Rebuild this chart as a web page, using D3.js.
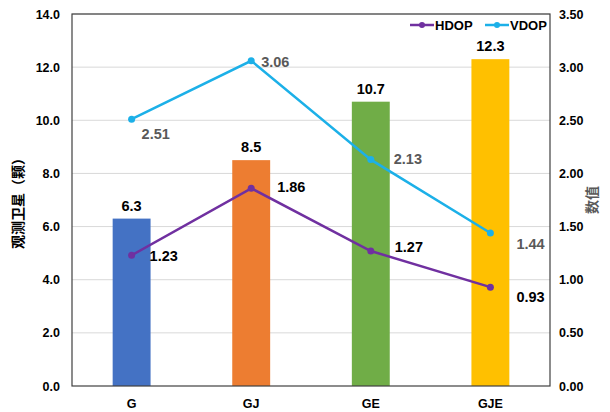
<!DOCTYPE html>
<html>
<head>
<meta charset="utf-8">
<script src="https://cdn.jsdelivr.net/npm/d3@7"></script>
<style>
  body { margin: 0; background: #fff; }
  svg { font-family: "Liberation Sans", Arial, sans-serif; }
  .cjk { font-family: "Noto Sans CJK SC", sans-serif; }
</style>
</head>
<body>
<svg id="chart" width="610" height="412"></svg>
<script>
const categories = ['G', 'GJ', 'GE', 'GJE'];
const satellites = [6.3, 8.5, 10.7, 12.3];
const hdop = [1.23, 1.86, 1.27, 0.93];
const vdop = [2.51, 3.06, 2.13, 1.44];
const leftTicks = [0, 2, 4, 6, 8, 10, 12, 14];
const rightTicks = [0, 0.5, 1, 1.5, 2, 2.5, 3, 3.5];
const barColors = ['#4472C4', '#ED7D31', '#70AD47', '#FFC000'];

const svg = d3.select('#chart');
const plotL = 72, plotR = 550, plotT = 14, plotB = 386;

const x = d3.scaleBand().domain(categories).range([plotL, plotR]).paddingInner(0.683).paddingOuter(0.34);
const xc = d => x(d) + x.bandwidth() / 2;
const yL = d3.scaleLinear().domain([0, 14]).range([plotB, plotT]);
const yR = d3.scaleLinear().domain([0, 3.5]).range([plotB, plotT]);

// gridlines
svg.append('g')
    .selectAll('line')
    .data(leftTicks.slice(1))
    .enter()
    .append('line')
    .attr('x1', plotL).attr('x2', plotR)
    .attr('y1', d => yL(d)).attr('y2', d => yL(d))
    .attr('stroke', '#d9d9d9').attr('stroke-width', 1);

// bars
svg.append('g')
    .selectAll('rect')
    .data(satellites)
    .enter()
    .append('rect')
    .attr('x', (d, i) => x(categories[i]))
    .attr('width', x.bandwidth())
    .attr('y', d => yL(d))
    .attr('height', d => yL(0) - yL(d))
    .attr('fill', (d, i) => barColors[i]);

svg.append('g')
    .selectAll('text')
    .data(satellites)
    .enter()
    .append('text')
    .attr('x', (d, i) => xc(categories[i]))
    .attr('y', d => yL(d) - 8)
    .attr('text-anchor', 'middle')
    .attr('font-size', 14.5).attr('font-weight', 'bold').attr('fill', '#000')
    .text(d => d.toFixed(1));

// plot frame
svg.append('rect')
    .attr('x', plotL).attr('y', plotT)
    .attr('width', plotR - plotL).attr('height', plotB - plotT)
    .attr('fill', 'none').attr('stroke', '#404040').attr('stroke-width', 1.2);

// axes
const axisL = d3.axisLeft(yL).tickValues(leftTicks).tickFormat(d3.format('.1f')).tickSize(0).tickPadding(12);
const axisR = d3.axisRight(yR).tickValues(rightTicks).tickFormat(d3.format('.2f')).tickSize(0).tickPadding(9);
const axisB = d3.axisBottom(x).tickSize(0).tickPadding(13);

[[axisL, `translate(${plotL},0)`], [axisR, `translate(${plotR},0)`], [axisB, `translate(0,${plotB})`]].forEach(([ax, tr]) => {
    const g = svg.append('g').attr('transform', tr).call(ax);
    g.select('.domain').remove();
    g.selectAll('text').attr('font-size', 12.5).attr('font-weight', 'bold').attr('fill', '#000')
        .attr('font-family', '"Liberation Sans", Arial, sans-serif');
});

// lines
const series = [
    { name: 'HDOP', values: hdop, color: '#7030A0', labelColor: '#000', dx: [18, 26, 24, 26], dy: [6, 4, 1, 15] },
    { name: 'VDOP', values: vdop, color: '#1CB0E8', labelColor: '#595959', dx: [10, 10, 23, 26], dy: [20, 6, 4.5, 16] }
];
const line = d3.line().x((d, i) => xc(categories[i])).y(d => yR(d));

series.forEach(s => {
    svg.append('path')
        .datum(s.values)
        .attr('d', line)
        .attr('fill', 'none')
        .attr('stroke', s.color)
        .attr('stroke-width', 2.5);
    svg.append('g')
        .selectAll('circle')
        .data(s.values)
        .enter()
        .append('circle')
        .attr('cx', (d, i) => xc(categories[i]))
        .attr('cy', d => yR(d))
        .attr('r', 3.5)
        .attr('fill', s.color);
    svg.append('g')
        .selectAll('text')
        .data(s.values)
        .enter()
        .append('text')
        .attr('x', (d, i) => xc(categories[i]) + s.dx[i])
        .attr('y', (d, i) => yR(d) + s.dy[i])
        .attr('font-size', 14.5).attr('font-weight', 'bold').attr('fill', s.labelColor)
        .text(d => d.toFixed(2));
});

// legend
const legend = svg.append('g').attr('transform', 'translate(410,25)');
series.forEach((s, i) => {
    const g = legend.append('g').attr('transform', `translate(${i * 75},0)`);
    g.append('line').attr('x1', 0).attr('x2', 24).attr('y1', 0).attr('y2', 0)
        .attr('stroke', s.color).attr('stroke-width', 2.5);
    g.append('circle').attr('cx', 12).attr('cy', 0).attr('r', 3).attr('fill', s.color);
    g.append('text').attr('x', 25).attr('y', 4.5)
        .attr('font-size', 13).attr('font-weight', 'bold').attr('fill', '#000')
        .text(s.name);
});

// axis titles
svg.append('text')
    .attr('class', 'cjk')
    .attr('transform', `translate(23,${(plotT + plotB) / 2}) rotate(-90)`)
    .attr('text-anchor', 'middle')
    .attr('font-size', 14).attr('font-weight', 'bold').attr('fill', '#000')
    .text('观测卫星（颗）');

svg.append('text')
    .attr('class', 'cjk')
    .attr('transform', `translate(597,${(plotT + plotB) / 2}) rotate(-90)`)
    .attr('text-anchor', 'middle')
    .attr('font-size', 14).attr('font-weight', 'bold').attr('fill', '#595959')
    .text('数值');
</script>
</body>
</html>
